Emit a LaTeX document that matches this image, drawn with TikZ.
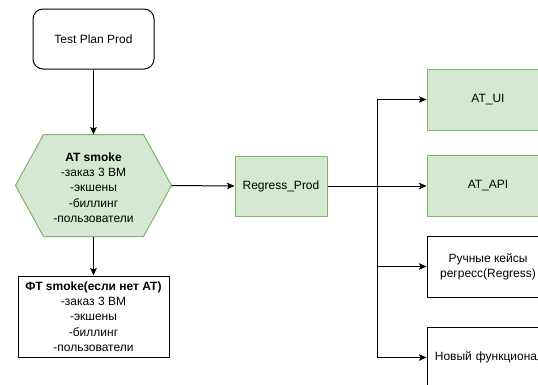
\documentclass[tikz,border=0pt]{standalone}
\usepackage{fontspec}
\setmainfont{Liberation Sans}
\usetikzlibrary{arrows.meta}
\definecolor{gfill}{HTML}{D5E8D4}
\definecolor{gline}{HTML}{82B366}
\tikzset{
  base/.style={font=\fontsize{12}{15.3}\selectfont, align=center, inner sep=0pt, line width=1pt},
  plainbox/.style={base, draw=black, fill=white, minimum height=61pt},
  greenbox/.style={base, draw=gline, fill=gfill, minimum height=61pt},
  arr/.style={line width=1pt, -{Stealth[length=7.5pt,width=6.5pt,inset=1.5pt]}},
  link/.style={line width=1pt}
}
\begin{document}
\begin{tikzpicture}[x=1pt,y=-1pt]
\useasboundingbox (0,0) rectangle (538,384);
\fill[white] (0,0) rectangle (538,384);
\clip (0,0) rectangle (538,384);

\node[plainbox, rounded corners=10pt, minimum width=121pt, minimum height=60pt] (tp) at (93.5,39) {Test Plan Prod};

\node[base, minimum width=155pt, minimum height=101pt] (at) at (93.5,185.5) {};
\draw[draw=gline, fill=gfill, line width=1pt]
  (at.west) -- ([xshift=28pt]at.north west) -- ([xshift=-28pt]at.north east)
  -- (at.east) -- ([xshift=-28pt]at.south east) -- ([xshift=28pt]at.south west) -- cycle;
\node[base] (attext) at (93.5,187.5) {\textbf{AT smoke}\\-заказ 3 ВМ\\-экшены\\-биллинг\\-пользователи};

\node[plainbox, minimum width=151pt, minimum height=81pt] (ft) at (93.5,316.5) {\textbf{ФТ smoke(если нет AT)}\\-заказ 3 ВМ\\-экшены\\-биллинг\\-пользователи};

\node[greenbox, minimum width=92pt, minimum height=60pt] (rp) at (281,186) {Regress\_Prod};

\node[greenbox, minimum width=122pt] (ui) at (488,99.5) {AT\_UI};
\node[greenbox, minimum width=122pt] (api) at (488,186) {AT\_API};
\node[plainbox, minimum width=122pt] (man) at (488,266.5) {Ручные кейсы\\регресс(Regress)};
\node[plainbox, minimum width=122pt, text width=122pt] (new) at (488,357.5) {\hspace*{3pt}Новый функционал\hfill};

\draw[arr] (tp) -- (at.north);
\draw[arr] (at.south) -- (ft.north);
\draw[arr] (at.east) -- (rp.west);
\coordinate (j) at (377,186);
\draw[arr] (rp.east) -- (api.west);
\draw[arr] (j) |- (ui.west);
\draw[arr] (j) |- (man.west);
\draw[arr] (j) |- (new.west);
\end{tikzpicture}
\end{document}
